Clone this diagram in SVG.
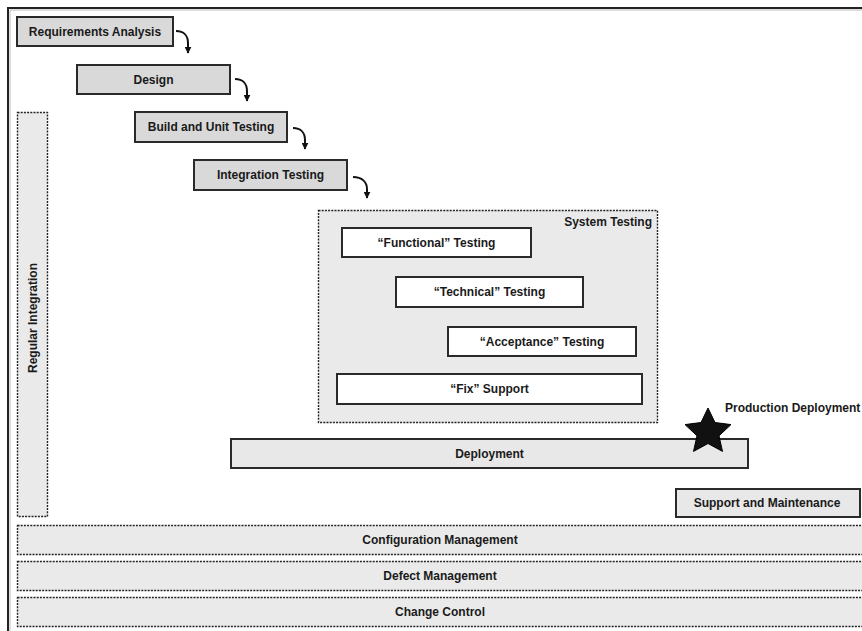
<svg xmlns="http://www.w3.org/2000/svg" width="862" height="631" viewBox="0 0 862 631">
<defs>
<marker id="ah" viewBox="0 0 10 10" refX="9" refY="5" markerWidth="7" markerHeight="7" orient="auto" markerUnits="userSpaceOnUse">
<path d="M0,0 L10,5 L0,10 z" fill="#111"/>
</marker>
<style>
.t{font-family:"Liberation Sans",Arial,sans-serif;font-size:12px;font-weight:bold;fill:#1a1a1a;text-anchor:middle;dominant-baseline:central}
.phase{fill:#d9d9d9;stroke:#2a2a2a;stroke-width:2}
.light{fill:#e8e8e8;stroke:#2a2a2a;stroke-width:2}
.white{fill:#ffffff;stroke:#2a2a2a;stroke-width:2}
.dash{fill:#eaeaea;stroke:#222;stroke-width:1.4;stroke-dasharray:2 1.2}
.arr{fill:none;stroke:#111;stroke-width:2;marker-end:url(#ah)}
</style>
</defs>
<rect width="862" height="631" fill="#ffffff"/>
<path d="M8,640 L8,8 L870,8" fill="none" stroke="#222" stroke-width="2"/>
<path d="M10,640 L10,10 L870,10" fill="none" stroke="#bbb" stroke-width="1"/>

<g id="regular-integration">
<rect class="dash" x="17.5" y="112.5" width="30" height="404"/>
<text class="t" transform="translate(33,318) rotate(-90)">Regular Integration</text>
</g>
<g id="config-management">
<rect class="dash" x="17.5" y="525.5" width="850" height="29"/>
<text class="t" x="440" y="540">Configuration Management</text>
</g>
<g id="defect-management">
<rect class="dash" x="17.5" y="561.5" width="850" height="29"/>
<text class="t" x="440" y="576">Defect Management</text>
</g>
<g id="change-control">
<rect class="dash" x="17.5" y="597.5" width="850" height="29"/>
<text class="t" x="440" y="612">Change Control</text>
</g>

<g id="requirements-analysis">
<rect class="phase" x="17" y="17" width="156" height="29"/>
<text class="t" x="95" y="31.5">Requirements Analysis</text>
</g>
<g id="design">
<rect class="phase" x="77" y="65" width="153" height="29"/>
<text class="t" x="153.5" y="79.5">Design</text>
</g>
<g id="build-unit-testing">
<rect class="phase" x="135" y="112" width="152" height="30"/>
<text class="t" x="211" y="127">Build and Unit Testing</text>
</g>
<g id="integration-testing">
<rect class="phase" x="194" y="160" width="153" height="30"/>
<text class="t" x="270.5" y="175">Integration Testing</text>
</g>

<g id="system-testing">
<rect class="dash" x="318.5" y="210.5" width="339" height="212"/>
<text class="t" x="652" y="222" style="text-anchor:end">System Testing</text>
</g>
<g id="functional-testing">
<rect class="white" x="342" y="228" width="189" height="29"/>
<text class="t" x="436.5" y="242.5">“Functional” Testing</text>
</g>
<g id="technical-testing">
<rect class="white" x="396" y="277" width="187" height="30"/>
<text class="t" x="489.5" y="292">“Technical” Testing</text>
</g>
<g id="acceptance-testing">
<rect class="white" x="448" y="327" width="188" height="29"/>
<text class="t" x="542" y="341.5">“Acceptance” Testing</text>
</g>
<g id="fix-support">
<rect class="white" x="337" y="374" width="305" height="30"/>
<text class="t" x="489.5" y="389">“Fix” Support</text>
</g>

<g id="deployment">
<rect class="light" x="231" y="439" width="517" height="29"/>
<text class="t" x="489.5" y="453.5">Deployment</text>
</g>
<g id="production-deployment">
<polygon points="708,408 715,422.5 731,424.6 719,435.8 722.5,451.4 708,443.5 693.5,451.4 697,435.8 685,424.6 701,422.5" fill="#111" stroke="#000" stroke-width="1"/>
<text class="t" x="725" y="408" style="text-anchor:start">Production Deployment</text>
</g>
<g id="support-maintenance">
<rect class="light" x="676" y="489" width="184" height="28"/>
<text class="t" x="767" y="503">Support and Maintenance</text>
</g>

<g id="connectors">
<path class="arr" d="M176,31 C184,31 188,36 188,43 L188,53"/>
<path class="arr" d="M235,79 C243,79 247,84 247,91 L247,101"/>
<path class="arr" d="M293,128 C301,128 305,133 305,140 L305,149"/>
<path class="arr" d="M353,177 C362,177 367,182 367,189 L367,198"/>
</g>
</svg>
